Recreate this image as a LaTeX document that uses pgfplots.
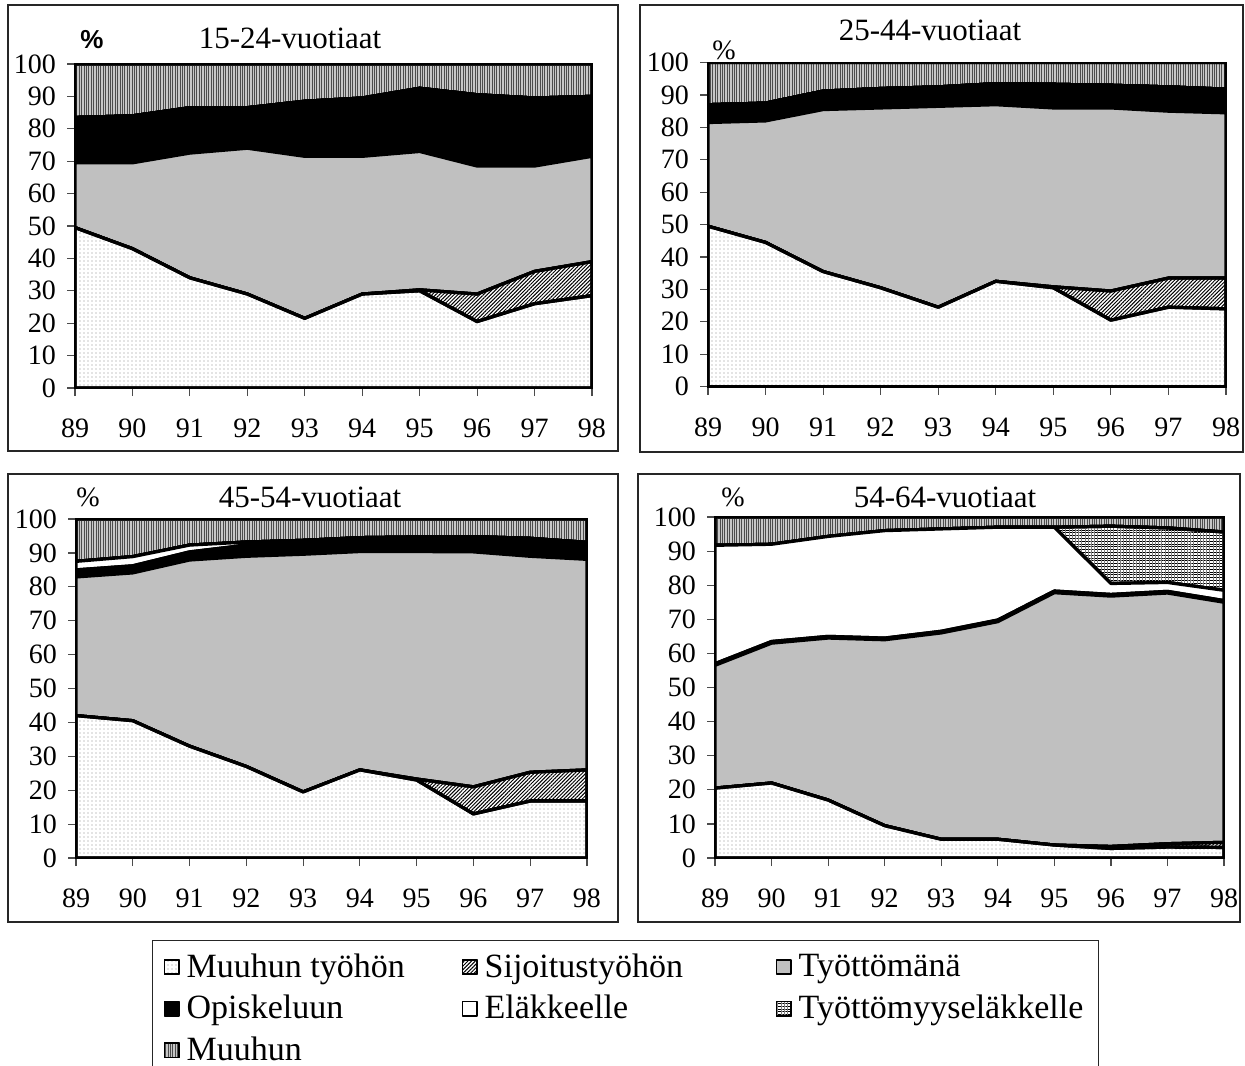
\documentclass[border=0pt]{standalone}
\usepackage{fontspec}
\setmainfont{Liberation Serif}
\newfontfamily\arialfont{Liberation Sans}
\usepackage{pgfplots}
\pgfplotsset{compat=1.18}
\usetikzlibrary{patterns.meta}

\definecolor{exgray}{RGB}{192,192,192}

% shares in percent, one table per age group
\pgfplotstableread{
year mt   sij  ty   op   ela  tel  muu
89   49.5 0    20   14   0    0    16.5
90   43   0    26.5 14.5 0    0    16
91   34   0    38.5 14   0    0    13.5
92   29   0    45   12.5 0    0    13.5
93   21.5 0    50   17   0    0    11.5
94   29   0    42.5 18   0    0    10.5
95   30   0.3  42.7 19.5 0    0    7.5
96   20.5 8.5  39.5 22   0    0    9.5
97   26   10   32.5 21   0    0    10.5
98   28.5 10.5 32.5 18.5 0    0    10
}\tabA
\pgfplotstableread{
year mt   sij  ty   op   ela  tel  muu
89   49.5 0    32   5.5  0    0    13
90   44.5 0    37.5 5.5  0    0    12.5
91   35.5 0    50   5.7  0    0    8.8
92   30.5 0    55.5 6    0    0    8
93   24.5 0    62   6    0    0    7.5
94   32.5 0    54.5 6.5  0    0    6.5
95   30.5 0.3  55.2 7.3  0    0    6.7
96   20.5 9    56.5 7    0    0    7
97   24.5 9    51.5 7.5  0    0    7.5
98   24   9.5  51   7.3  0    0    8.2
}\tabB
\pgfplotstableread{
year mt   sij  ty   op   ela  tel  muu
89   42   0    40.9 2.1  2.5  0    12.5
90   40.5 0    43.6 2.1  2.7  0    11.1
91   33   0    54.9 2.4  2    0    7.7
92   27   0    62   3.3  0.9  0    6.8
93   19.5 0    70.1 3.4  0.7  0    6.3
94   26   0    64.4 3.6  0.5  0    5.5
95   23   0.3  67.1 3.9  0.4  0    5.3
96   13   8    69.3 4.1  0.4  0    5.2
97   16.8 8.5  63.7 4.9  0.4  0    5.7
98   16.8 9.2  62.1 4.6  0.4  0    6.9
}\tabC
\pgfplotstableread{
year mt   sij  ty   op   ela  tel  muu
89   20.5 0    36   0.5  34.7 0    8.3
90   22   0    41   0.5  28.5 0    8
91   17   0    47.5 0.5  29.3 0    5.7
92   9.5  0    54.5 0.5  31.5 0    4
93   5.5  0    60.5 0.5  30   0    3.5
94   5.5  0    63.8 0.5  27.2 0    3
95   3.8  0    74   0.5  18.7 0    3
96   2.8  0.6  73.4 0.5  3.2  16.8 2.7
97   3.2  1    73.5 0.5  2.6  16   3.2
98   3.1  1.5  70.4 0.5  3    17.1 4.4
}\tabD

\pgfplotsset{
  panel/.style={
    scale only axis,
    xmin=89, xmax=98, ymin=0, ymax=100,
    xtick={89,...,98}, ytick={0,10,...,100},
    tick align=outside, tick pos=left,
    major tick length=4pt,
    tick style={black!70, line width=0.6pt},
    axis line style={line width=1pt},
    tick label style={font=\fontsize{14}{16}\selectfont},
    /pgf/number format/assume math mode=true,
    xticklabel style={yshift=-8pt},
    yticklabel style={xshift=-2pt},
    stack plots=y,
    axis on top,
  },
  bd/.style={draw=black, line width=1.6pt, line join=round},
  s-mt/.style={bd, fill=white, postaction={pattern={Dots[distance=2pt, radius=0.3pt]}, pattern color=black!45}},
  s-sij/.style={bd, fill=white, postaction={pattern={Lines[angle=45, distance=1.3pt, line width=0.5pt]}, pattern color=black}},
  s-ty/.style={bd, fill=exgray},
  s-op/.style={bd, fill=black},
  s-ela/.style={bd, fill=white},
  s-tel/.style={bd, fill=white, postaction={pattern={Lines[angle=0, distance=1.4pt, line width=0.5pt]}, pattern color=black},
    postaction={pattern={Lines[angle=90, distance=1.6pt, line width=0.3pt]}, pattern color=black!50}},
  s-muu/.style={bd, fill=black!22, postaction={pattern={Lines[angle=90, distance=1.2pt, line width=0.35pt]}, pattern color=black!70}},
  legend image code/.code={\draw[#1, line width=0.8pt] (0pt,-3.6pt) rectangle (7.2pt,3.6pt);},
}

\newcommand{\stackall}[1]{%
  \addplot[s-mt]  table[x=year, y=mt]  {#1} \closedcycle;
  \addplot[s-sij] table[x=year, y=sij] {#1} \closedcycle;
  \addplot[s-ty]  table[x=year, y=ty]  {#1} \closedcycle;
  \addplot[s-op]  table[x=year, y=op]  {#1} \closedcycle;
  \addplot[s-ela] table[x=year, y=ela] {#1} \closedcycle;
  \addplot[s-tel] table[x=year, y=tel] {#1} \closedcycle;
  \addplot[s-muu] table[x=year, y=muu] {#1} \closedcycle;
}
\newcommand{\lgA}[1]{\makebox[131pt][l]{\hspace*{1.5pt}#1}}
\newcommand{\lgB}[1]{\makebox[139pt][l]{\hspace*{1.5pt}#1}}
\newcommand{\lgC}[1]{\hspace*{1.5pt}#1}

\begin{document}
\begin{tikzpicture}
\useasboundingbox (0,0) rectangle (622.5pt,-532.5pt);

% panel frames
\draw[black!85, line width=0.6pt] (4pt,-2.5pt) rectangle (309pt,-225.5pt);
\draw[black!85, line width=0.6pt] (320pt,-2.5pt) rectangle (621.5pt,-226pt);
\draw[black!85, line width=0.6pt] (4pt,-237pt) rectangle (309pt,-461pt);
\draw[black!85, line width=0.6pt] (319pt,-237pt) rectangle (620pt,-461pt);

\begin{axis}[panel, at={(37.5pt,-194pt)}, anchor=south west, width=258.5pt, height=162pt]
\stackall{\tabA}
\end{axis}

\begin{axis}[panel, at={(354pt,-193.3pt)}, anchor=south west, width=259pt, height=162pt]
\stackall{\tabB}
\end{axis}

\begin{axis}[panel, at={(38pt,-429pt)}, anchor=south west, width=255.5pt, height=169.5pt]
\stackall{\tabC}
\end{axis}

\begin{axis}[panel, at={(357.5pt,-429pt)}, anchor=south west, width=254.5pt, height=170.5pt,
  legend columns=3,
  legend cell align=left,
  legend style={at={(-1.106,-0.2405)}, anchor=north west, draw=black!85, line width=0.6pt,
    font=\fontsize{17}{18}\selectfont, row sep=3.5pt, inner xsep=5.5pt, inner ysep=4.5pt,
    /tikz/every even column/.append style={column sep=6pt}},
]
\stackall{\tabD}
\legend{\lgA{Muuhun työhön}, \lgB{Sijoitustyöhön}, \lgC{Työttömänä},
        \lgA{Opiskeluun}, \lgB{Eläkkeelle}, \lgC{Työttömyyseläkkelle}, \lgA{Muuhun}}
\end{axis}

% titles
\node[font=\arialfont\bfseries\fontsize{13}{15}\selectfont] at (46pt,-20pt) {\%};
\node[font=\fontsize{15.5}{17}\selectfont] at (145pt,-19pt) {15-24-vuotiaat};
\node[font=\fontsize{14}{16}\selectfont] at (362pt,-25pt) {\%};
\node[font=\fontsize{15.5}{17}\selectfont] at (465pt,-15pt) {25-44-vuotiaat};
\node[font=\fontsize{14}{16}\selectfont] at (44pt,-248.5pt) {\%};
\node[font=\fontsize{15.5}{17}\selectfont] at (155pt,-248.5pt) {45-54-vuotiaat};
\node[font=\fontsize{14}{16}\selectfont] at (366.5pt,-248.5pt) {\%};
\node[font=\fontsize{15.5}{17}\selectfont] at (472.5pt,-248.5pt) {54-64-vuotiaat};
\end{tikzpicture}
\end{document}
